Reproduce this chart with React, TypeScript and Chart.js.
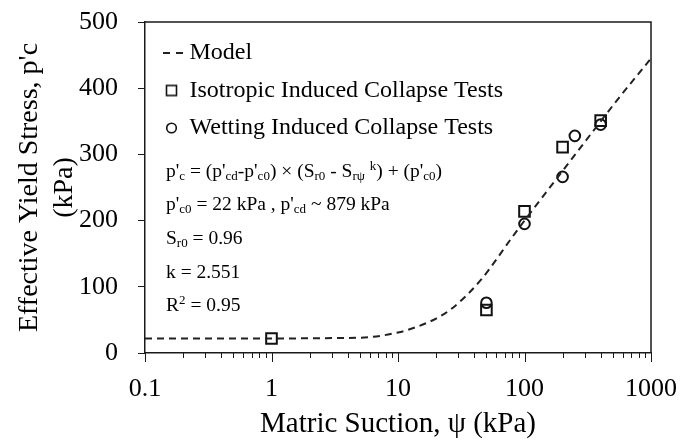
import React, { useEffect, useRef } from 'react';
import { Chart, registerables } from 'chart.js';

Chart.register(...registerables);

const FONT = '"Liberation Serif", "Times New Roman", Times, serif';

// Model curve
const modelSuction = [0.1, 1, 3, 6, 10, 12, 20, 27, 45, 80, 100, 200, 400, 540, 1000];
const modelStress = [22, 22, 22.5, 24, 31, 35, 52, 68, 110, 175, 200, 275, 350, 382, 445];

// Isotropic induced collapse tests (squares)
const isoSuction = [1, 50, 100, 200, 400];
const isoStress = [22, 65, 214, 311, 351];

// Wetting induced collapse tests (circles)
const wetSuction = [50, 100, 200, 250, 400];
const wetStress = [76, 195, 266, 328, 345];

const seriesLabels = ['Model', 'Isotropic Induced Collapse Tests', 'Wetting Induced Collapse Tests'];

const xDecades = [0.1, 1, 10, 100, 1000];
const xTickLabels = ['0.1', '1', '10', '100', '1000'];
const xMinorMultipliers = [2, 3, 4, 5, 6, 7, 8, 9];

const yMin = 0;
const yMax = 500;
const yStep = 50;
const yLabelEvery = 100;

const xTitle = 'Matric Suction, ψ (kPa)';
const yTitle = ["Effective Yield Stress, p'c", '(kPa)'];

const AXIS = '#1a1a1a';

function makeIcon(kind: string): HTMLCanvasElement {
  const c = document.createElement('canvas');
  c.width = 32;
  c.height = 14;
  const g = c.getContext('2d')!;
  g.strokeStyle = '#111';
  g.fillStyle = '#222';
  const cx = 19.5;
  const cy = 7;
  if (kind === 'dash') {
    g.fillRect(11, cy - 1, 7, 2);
    g.fillRect(24, cy - 1, 7, 2);
  } else if (kind === 'rect') {
    g.lineWidth = 1.6;
    g.strokeRect(cx - 5, cy - 5, 10, 10);
  } else {
    g.lineWidth = 1.6;
    g.beginPath();
    g.arc(cx, cy, 4.8, 0, Math.PI * 2);
    g.stroke();
  }
  return c;
}

const framePlugin = {
  id: 'frame',
  afterDraw(chart: any) {
    const { ctx, chartArea: a, scales } = chart;
    const xs = scales.x;
    ctx.save();
    ctx.strokeStyle = AXIS;
    ctx.lineWidth = 1.5;
    ctx.beginPath();
    ctx.moveTo(a.left, a.top);
    ctx.lineTo(a.right, a.top);
    ctx.lineTo(a.right, a.bottom);
    ctx.stroke();
    ctx.lineWidth = 1;
    xs.ticks.forEach((t: any) => {
      const px = Math.round(xs.getPixelForValue(t.value)) + 0.5;
      const major = xDecades.some((d) => Math.abs(d - t.value) < 1e-9);
      ctx.beginPath();
      ctx.moveTo(px, a.bottom);
      ctx.lineTo(px, a.bottom + (major ? 9 : 5));
      ctx.stroke();
    });
    ctx.restore();
  },
};

const formulaStyle: React.CSSProperties = {
  position: 'absolute',
  left: 166,
  fontFamily: FONT,
  fontSize: '19.5px',
  lineHeight: '24px',
  color: '#000',
  whiteSpace: 'nowrap',
};
const subStyle: React.CSSProperties = { fontSize: '13px', verticalAlign: '-3px', lineHeight: 0 };
const supStyle: React.CSSProperties = { fontSize: '13px', verticalAlign: '7px', lineHeight: 0 };

export default function App() {
  const ref = useRef<HTMLCanvasElement | null>(null);

  useEffect(() => {
    document.body.style.margin = '0';
    if (!ref.current) return;
    const icons = [makeIcon('dash'), makeIcon('rect'), makeIcon('circle')];

    const xTickValues: number[] = [];
    xDecades.forEach((d, i) => {
      xTickValues.push(d);
      if (i < xDecades.length - 1) xMinorMultipliers.forEach((m) => xTickValues.push(d * m));
    });

    const chart = new Chart(ref.current, {
      type: 'scatter',
      data: {
        datasets: [
          {
            label: seriesLabels[0],
            data: modelSuction.map((x, i) => ({ x, y: modelStress[i] })),
            showLine: true,
            borderColor: '#222',
            borderWidth: 2,
            borderDash: [7, 5],
            pointRadius: 0,
            pointHoverRadius: 0,
            cubicInterpolationMode: 'monotone',
            fill: false,
          } as any,
          {
            label: seriesLabels[1],
            data: isoSuction.map((x, i) => ({ x, y: isoStress[i] })),
            pointStyle: 'rect',
            pointRadius: 7.5,
            pointHoverRadius: 7.5,
            borderWidth: 2,
            borderColor: '#111',
            backgroundColor: 'rgba(0,0,0,0)',
          },
          {
            label: seriesLabels[2],
            data: wetSuction.map((x, i) => ({ x, y: wetStress[i] })),
            pointStyle: 'circle',
            pointRadius: 5.3,
            pointHoverRadius: 5.3,
            borderWidth: 2,
            borderColor: '#111',
            backgroundColor: 'rgba(0,0,0,0)',
          },
        ],
      },
      options: {
        responsive: false,
        animation: false,
        events: [],
        layout: { padding: { top: 22, right: 30, left: 0, bottom: 0 } },
        scales: {
          x: {
            type: 'logarithmic',
            min: 0.1,
            max: 1000,
            afterFit: (s: any) => {
              s.height = 90;
              s.paddingLeft = 0;
              s.paddingRight = 0;
            },
            afterBuildTicks: (s: any) => {
              s.ticks = xTickValues.map((value) => ({ value }));
            },
            ticks: {
              autoSkip: false,
              maxRotation: 0,
              padding: 21,
              color: '#000',
              font: { family: FONT, size: 26 },
              callback: (v: any) => {
                const i = xDecades.findIndex((d) => Math.abs(d - Number(v)) < 1e-9);
                return i >= 0 ? xTickLabels[i] : '';
              },
            },
            grid: { display: true, drawOnChartArea: false, drawTicks: false, color: AXIS },
            border: { display: true, color: AXIS, width: 1.5 },
            title: {
              display: true,
              text: xTitle,
              color: '#000',
              font: { family: FONT, size: 29 },
              padding: { top: 0, bottom: 1 },
            },
          },
          y: {
            type: 'linear',
            min: yMin,
            max: yMax,
            afterFit: (s: any) => {
              s.width = 145;
              s.paddingTop = 0;
              s.paddingBottom = 0;
            },
            ticks: {
              stepSize: yStep,
              padding: 20,
              color: '#000',
              font: { family: FONT, size: 26 },
              callback: (v: any) => (Number(v) % yLabelEvery === 0 ? String(v) : ''),
            },
            grid: { display: true, drawOnChartArea: false, drawTicks: true, tickLength: 7, color: AXIS },
            border: { display: true, color: AXIS, width: 1.5 },
            title: {
              display: true,
              text: yTitle,
              color: '#000',
              font: { family: FONT, size: 28, lineHeight: 1.25 },
              padding: { top: 12, bottom: 0 },
            },
          },
        },
        plugins: {
          tooltip: { enabled: false },
          legend: {
            display: true,
            position: 'chartArea',
            align: 'start',
            onClick: () => {},
            title: { display: true, text: ' ', font: { size: 10, lineHeight: 1.2 }, padding: { top: 15.5, bottom: 0 } },
            labels: {
              usePointStyle: true,
              pointStyleWidth: 19,
              padding: 13.5,
              color: '#000',
              font: { family: FONT, size: 24 },
              generateLabels: () =>
                seriesLabels.map((text, i) => ({
                  text,
                  pointStyle: icons[i] as any,
                  fillStyle: 'rgba(0,0,0,0)',
                  strokeStyle: 'rgba(0,0,0,0)',
                  lineWidth: 0,
                  hidden: false,
                  datasetIndex: i,
                  fontColor: '#000',
                })),
            },
          },
        },
      },
      plugins: [framePlugin],
    } as any);
    return () => chart.destroy();
  }, []);

  return (
    <div style={{ position: 'relative', width: 681, height: 443 }}>
      <canvas ref={ref} width={681} height={443} style={{ display: 'block' }} />
      <div style={{ ...formulaStyle, top: 159 }}>
        p'<sub style={subStyle}>c</sub> = (p'<sub style={subStyle}>cd</sub>-p'<sub style={subStyle}>c0</sub>) × (S
        <sub style={subStyle}>r0</sub> - S<sub style={subStyle}>rψ</sub> <sup style={supStyle}>k</sup>) + (p'
        <sub style={subStyle}>c0</sub>)
      </div>
      <div style={{ ...formulaStyle, top: 192 }}>
        p'<sub style={subStyle}>c0</sub> = 22 kPa , p'<sub style={subStyle}>cd</sub> ~ 879 kPa
      </div>
      <div style={{ ...formulaStyle, top: 226 }}>
        S<sub style={subStyle}>r0</sub> = 0.96
      </div>
      <div style={{ ...formulaStyle, top: 260 }}>k = 2.551</div>
      <div style={{ ...formulaStyle, top: 293 }}>
        R<sup style={supStyle}>2</sup> = 0.95
      </div>
    </div>
  );
}
